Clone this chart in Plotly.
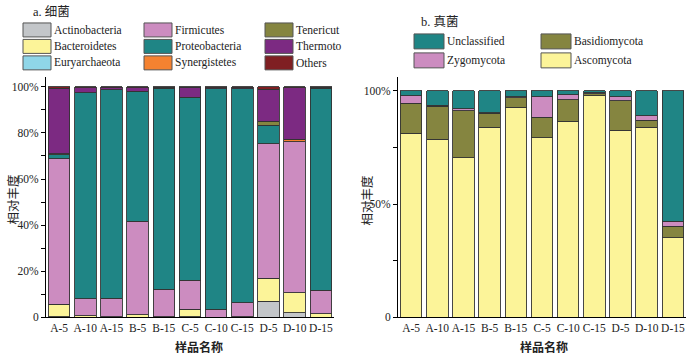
import plotly.graph_objects as go

W, H = 690, 358
H_EFF = 352.7  # compensation for measured vertical rendering offset

samples = ["A-5", "A-10", "A-15", "B-5", "B-15", "C-5", "C-10", "C-15", "D-5", "D-10", "D-15"]

# Bacteria (phylum), % relative abundance, bottom -> top
bac_names = ["Actinobacteria", "Bacteroidetes", "Euryarchaeota", "Firmicutes", "Proteobacteria",
             "Synergistetes", "Tenericut", "Thermoto", "Others"]
actinobacteria = [0.3, 0.0, 0.0, 0.0, 0.0, 0.2, 0.0, 0.0, 6.9, 2.0, 0.0]
bacteroidetes  = [5.3, 0.7, 0.3, 1.2, 0.2, 3.3, 0.0, 0.2, 10.0, 8.7, 1.6]
euryarchaeota  = [0.0, 0.0, 0.0, 0.0, 0.0, 0.0, 0.0, 0.0, 0.0, 0.0, 0.0]
firmicutes     = [63.1, 7.4, 7.9, 40.5, 11.9, 12.7, 3.5, 6.1, 58.3, 65.4, 10.1]
proteobacteria = [1.9, 89.4, 90.5, 56.3, 87.3, 79.3, 95.6, 92.8, 8.1, 0.0, 87.7]
synergistetes  = [0.0, 0.0, 0.0, 0.0, 0.0, 0.0, 0.0, 0.0, 0.0, 1.2, 0.0]
tenericut      = [0.3, 0.0, 0.0, 0.0, 0.0, 0.0, 0.0, 0.0, 1.7, 0.0, 0.0]
thermoto       = [28.4, 2.0, 0.8, 1.5, 0.3, 4.2, 0.5, 0.4, 14.0, 22.2, 0.3]
others         = [0.7, 0.5, 0.5, 0.5, 0.3, 0.3, 0.4, 0.5, 1.0, 0.5, 0.3]
bac_values = [actinobacteria, bacteroidetes, euryarchaeota, firmicutes, proteobacteria,
              synergistetes, tenericut, thermoto, others]
bac_colors = ["#c3c6c9", "#fcf499", "#8fd6e8", "#cc8cc0", "#1f8585",
              "#f58230", "#858540", "#7c2a82", "#7f1f22"]

# Fungi, bottom -> top
fun_names = ["Ascomycota", "Basidiomycota", "Zygomycota", "Unclassified"]
ascomycota    = [81.4, 78.7, 70.4, 84.0, 92.8, 79.2, 86.6, 97.9, 82.7, 84.0, 35.1]
basidiomycota = [13.2, 14.6, 20.8, 6.2, 4.1, 9.2, 9.4, 0.9, 13.0, 3.1, 5.1]
zygomycota    = [3.2, 0.3, 1.0, 0.2, 0.5, 9.1, 2.4, 0.3, 1.8, 1.9, 2.3]
unclassified  = [2.2, 6.4, 7.8, 9.6, 2.6, 2.5, 1.6, 0.9, 2.5, 11.0, 57.5]
fun_values = [ascomycota, basidiomycota, zygomycota, unclassified]
fun_colors = ["#fcf499", "#858540", "#cc8cc0", "#1f8585"]

left_ticks = [0, 10, 20, 30, 40, 50, 60, 70, 80, 90, 100]
left_ticktext = ["0", "", "20%", "", "40%", "", "60%", "", "80%", "", "100%"]
right_ticks = [0, 25, 50, 75, 100]
right_ticktext = ["0", "", "50%", "", "100%"]

SERIF = "Liberation Serif, Times New Roman, Noto Sans CJK SC, serif"
CJK = "Noto Sans CJK SC, Liberation Serif, serif"


def px(x):
    return x / W


def py(y):
    return 1 - y / H_EFF


fig = go.Figure()
for name, vals, col in zip(bac_names, bac_values, bac_colors):
    fig.add_trace(go.Bar(x=samples, y=vals, name=name, marker_color=col,
                         marker_line=dict(color="#333333", width=0.9),
                         xaxis="x", yaxis="y", showlegend=False))
for name, vals, col in zip(fun_names, fun_values, fun_colors):
    fig.add_trace(go.Bar(x=samples, y=vals, name=name, marker_color=col,
                         marker_line=dict(color="#333333", width=0.9),
                         xaxis="x2", yaxis="y2", showlegend=False))

axis_common = dict(showgrid=False, zeroline=False, showline=True, linecolor="black",
                   linewidth=1, tickfont=dict(family=SERIF, size=11.5, color="#222"))

fig.update_layout(
    width=W, height=H, margin=dict(l=0, r=0, t=0, b=0),
    paper_bgcolor="white", plot_bgcolor="white",
    barmode="stack", bargap=0.18,
    xaxis=dict(domain=[px(46), px(334)], anchor="y", ticks="", **axis_common),
    yaxis=dict(domain=[py(318), py(77)], anchor="x", range=[0, 104.3],
               tickvals=left_ticks, ticktext=left_ticktext, ticks="outside",
               ticklen=4, tickcolor="black", **axis_common),
    xaxis2=dict(domain=[px(398), px(686)], anchor="y2", ticks="", **axis_common),
    yaxis2=dict(domain=[py(318), py(77)], anchor="x2", range=[0, 106.2],
                tickvals=right_ticks, ticktext=right_ticktext, ticks="outside",
                ticklen=4, tickcolor="black", **axis_common),
)

shapes = []
annotations = []


def legend_block(names, colors, cols_x, rows_y, sw_w, sw_h, text_dx):
    for i, (n, c) in enumerate(zip(names, colors)):
        ci, ri = divmod(i, len(rows_y))
        x0, y0 = cols_x[ci], rows_y[ri]
        shapes.append(dict(type="rect", xref="paper", yref="paper",
                           x0=px(x0), x1=px(x0 + sw_w), y0=py(y0 + sw_h), y1=py(y0),
                           fillcolor=c, line=dict(color="#555555", width=1)))
        annotations.append(dict(xref="paper", yref="paper", x=px(x0 + sw_w + text_dx),
                                y=py(y0 + sw_h / 2), text=n, showarrow=False,
                                xanchor="left", yanchor="middle",
                                font=dict(family=SERIF, size=11.5, color="#222")))


# left legend (column-major)
legend_block(["Actinobacteria", "Bacteroidetes", "Euryarchaeota", "Firmicutes", "Proteobacteria",
              "Synergistetes", "Tenericut", "Thermoto", "Others"],
             bac_colors, [23, 144, 265], [23, 39.5, 56], 28, 14, 1)
# right legend
fun_color_map = dict(zip(fun_names, fun_colors))
r_names = ["Unclassified", "Zygomycota", "Basidiomycota", "Ascomycota"]
legend_block(r_names, [fun_color_map[n] for n in r_names],
             [414, 541], [34, 53], 30, 15, 1)

# panel titles
annotations.append(dict(xref="paper", yref="paper", x=px(31), y=py(12), text="a. 细菌",
                        showarrow=False, xanchor="left", yanchor="middle",
                        font=dict(family=SERIF, size=12.5, color="#222")))
annotations.append(dict(xref="paper", yref="paper", x=px(419), y=py(22), text="b. 真菌",
                        showarrow=False, xanchor="left", yanchor="middle",
                        font=dict(family=SERIF, size=12.5, color="#222")))
# axis titles
for x, y in [(13, 200), (367, 201)]:
    annotations.append(dict(xref="paper", yref="paper", x=px(x), y=py(y), text="相对丰度",
                            textangle=-90, showarrow=False, xanchor="center", yanchor="middle",
                            font=dict(family=CJK, size=12.5, color="#222")))
for x, y in [(199, 347), (544, 347)]:
    annotations.append(dict(xref="paper", yref="paper", x=px(x), y=py(y), text="<b>样品名称</b>",
                            showarrow=False, xanchor="center", yanchor="middle",
                            font=dict(family=CJK, size=12, color="#222")))

fig.update_layout(shapes=shapes, annotations=annotations)
fig.write_html(
    "out.html",
    config={"displayModeBar": False},
    post_script=("document.body.style.margin='0';document.body.style.padding='0';"
                 "document.body.style.overflow='hidden';"
                 "document.documentElement.style.overflow='hidden';"),
)
